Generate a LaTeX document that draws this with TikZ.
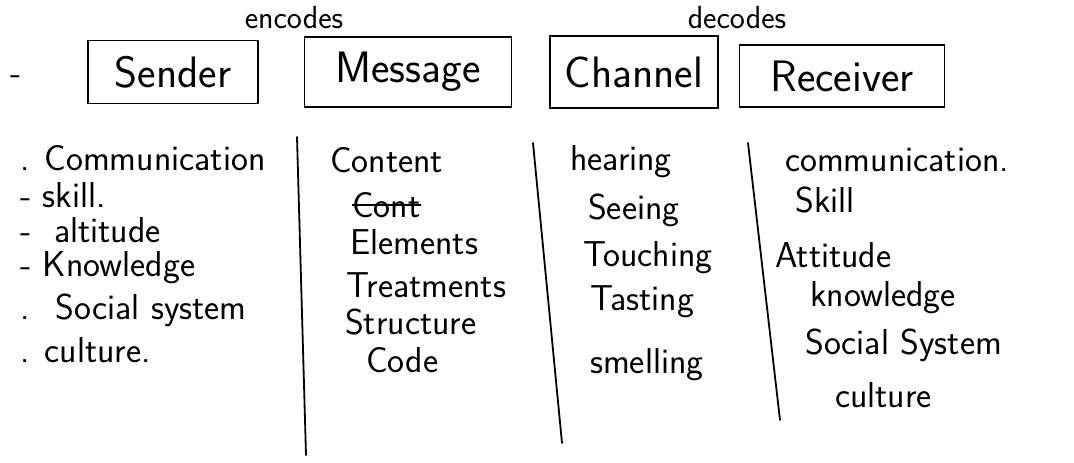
\documentclass[tikz,border=0pt]{standalone}
\usepackage{tikz}
\usetikzlibrary{positioning}

\begin{document}
\begin{tikzpicture}[x=1pt, y=-1pt, font=\sffamily,
    headbox/.style={draw, line width=1.8pt, inner sep=0pt, font=\sffamily\fontsize{44}{48}\selectfont},
    verb/.style={font=\sffamily\fontsize{32}{34}\selectfont, inner sep=0pt},
    item/.style={anchor=west, inner sep=0pt, font=\sffamily\fontsize{36}{38}\selectfont},
    divider/.style={line width=1.8pt, line cap=round}]
    \useasboundingbox (0, 0) rectangle (1074, 463); % page size

    % the four boxes
    \node[headbox, minimum width=170, minimum height=63] (sender) at (173, 72) {Sender};
    \node[headbox, minimum width=207, minimum height=70] (message) at (408, 72) {Message};
    \node[headbox, minimum width=168, minimum height=72] (channel) at (634, 72) {Channel};
    \node[headbox, minimum width=205, minimum height=62] (receiver) at (842, 76) {Receiver};
    \node[verb] (enc) at (294, 18) {encodes};
    \node[verb] (dec) at (737, 18) {decodes};
    \node[item, anchor=center] (dash) at (16, 80) {-};

    % sender side
    \foreach \txt/\yy [count=\i] in {{. Communication}/158, {- skill.}/195, {- \ altitude}/230,
        {- Knowledge}/268, {. \ Social system}/310, {. culture.}/350}
        \node[item] (s\i) at (20, \yy) {\txt};

    % message side
    \foreach \txt/\xx/\yy [count=\i] in {Content/330/160, Cont/352/205, Elements/350/242,
        Treatments/346/285, Structure/345/322, Code/366/360}
        \node[item] (m\i) at (\xx, \yy) {\txt};
    \draw[line width=1.2pt] (m2.west) -- (m2.east); % crossed out

    % channel side
    \foreach \txt/\xx/\yy [count=\i] in {hearing/570/162, Seeing/588/210, Touching/583/258,
        Tasting/590/302, smelling/590/365}
        \node[item] (c\i) at (\xx, \yy) {\txt};

    % receiver side
    \foreach \txt/\xx/\yy [count=\i] in {communication./785/160, Skill/795/200, Attitude/775/255,
        knowledge/810/298, Social System/805/345, culture/835/395}
        \node[item] (r\i) at (\xx, \yy) {\txt};

    % column rules
    \coordinate (d1a) at (297, 137); \coordinate (d1b) at (306, 455);
    \coordinate (d2a) at (533, 143); \coordinate (d2b) at (562, 443);
    \coordinate (d3a) at (748, 143); \coordinate (d3b) at (780, 420);
    \draw[divider] (d1a) -- (d1b);
    \draw[divider] (d2a) -- (d2b);
    \draw[divider] (d3a) -- (d3b);
\end{tikzpicture}
\end{document}
